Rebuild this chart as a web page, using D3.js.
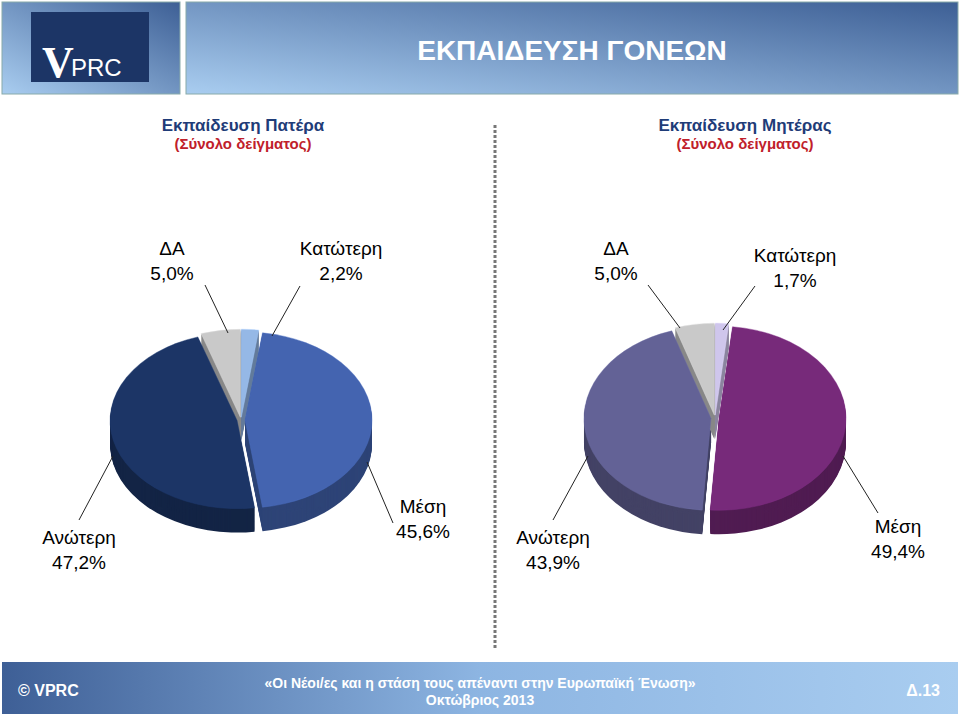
<!DOCTYPE html>
<html><head><meta charset="utf-8">
<script src="https://cdn.jsdelivr.net/npm/d3@7"></script>
<style>body{margin:0;background:#fff}text{font-family:"Liberation Sans Narrow","Arial Narrow","Liberation Sans",sans-serif}</style>
</head><body><svg width="960" height="716"></svg>
<script>
const categories = ["Κατώτερη", "Μέση", "Ανώτερη", "ΔΑ"]
const fatherValues = [2.2, 45.6, 47.2, 5.0]
const motherValues = [1.7, 49.4, 43.9, 5.0]
const fatherColors = ["#95b8e6", "#4464b0", "#1c3566", "#c9c9c9"]
const motherColors = ["#cfc6ec", "#772a7a", "#636296", "#c9c9c9"]

const svg = d3.select('svg')
const defs = svg.append('defs')
const hg = defs.append('linearGradient').attr('id', 'hdr').attr('x1', 0).attr('x2', 1).attr('y1', 1).attr('y2', 0)
hg.append('stop').attr('offset', 0).attr('stop-color', '#a9cdf0')
hg.append('stop').attr('offset', 1).attr('stop-color', '#3d5f95')
const fg = defs.append('linearGradient').attr('id', 'ftr').attr('x1', 0).attr('x2', 1)
fg.append('stop').attr('offset', 0).attr('stop-color', '#3e5f96')
fg.append('stop').attr('offset', 0.5).attr('stop-color', '#8db5e2')
fg.append('stop').attr('offset', 1).attr('stop-color', '#a9cdf0')

// header
svg.append('rect').attr('x', 2).attr('y', 2).attr('width', 178).attr('height', 92).attr('fill', 'url(#hdr)').attr('stroke', '#8aa')
svg.append('rect').attr('x', 31).attr('y', 12).attr('width', 118).attr('height', 70).attr('fill', '#1c3566')
svg.append('text').attr('x', 42).attr('y', 77).attr('fill', '#fff').style('font-size', '44px').style('font-family', 'Liberation Serif').style('font-weight', 'bold').text('V')
svg.append('text').attr('x', 71).attr('y', 76).attr('fill', '#fff').style('font-size', '24px').text('PRC')
svg.append('rect').attr('x', 186).attr('y', 2).attr('width', 772).attr('height', 92).attr('fill', 'url(#hdr)').attr('stroke', '#8aa')
svg.append('text').attr('x', 572).attr('y', 60).attr('text-anchor', 'middle').attr('fill', '#fff').style('font-size', '28px').style('font-weight', 'bold').text('ΕΚΠΑΙΔΕΥΣΗ ΓΟΝΕΩΝ')

// footer
svg.append('rect').attr('x', 2).attr('y', 662).attr('width', 956).attr('height', 52).attr('fill', 'url(#ftr)')
svg.append('text').attr('x', 18).attr('y', 696).attr('fill', '#fff').style('font-size', '16px').style('font-weight', 'bold').text('© VPRC')
svg.append('text').attr('x', 480).attr('y', 688).attr('text-anchor', 'middle').attr('fill', '#fff').style('font-size', '14px').style('font-weight', 'bold').text('«Οι Νέοι/ες και η στάση τους απέναντι στην Ευρωπαϊκή Ένωση»')
svg.append('text').attr('x', 480).attr('y', 705).attr('text-anchor', 'middle').attr('fill', '#fff').style('font-size', '14px').style('font-weight', 'bold').text('Οκτώβριος 2013')
svg.append('text').attr('x', 940).attr('y', 696).attr('text-anchor', 'end').attr('fill', '#fff').style('font-size', '16px').style('font-weight', 'bold').text('Δ.13')

// divider
svg.append('line').attr('x1', 495).attr('x2', 495).attr('y1', 125).attr('y2', 650).attr('stroke', '#777').attr('stroke-width', 3).attr('stroke-dasharray', '3,2')

function titleBlock(x, t1) {
    svg.append('text').attr('x', x).attr('y', 131).attr('text-anchor', 'middle').attr('fill', '#1f3c78').style('font-size', '17px').style('font-weight', 'bold').text(t1)
    svg.append('text').attr('x', x).attr('y', 149).attr('text-anchor', 'middle').attr('fill', '#c0202a').style('font-size', '15px').style('font-weight', 'bold').text('(Σύνολο δείγματος)')
}
titleBlock(243, 'Εκπαίδευση Πατέρα')
titleBlock(745, 'Εκπαίδευση Μητέρας')

const pie = d3.pie().sort(null).value(d => d)
const fmt = v => d3.format('.1f')(v).replace('.', ',') + '%'

function drawPie(values, colors, cx, cy, rx, ry, depth, labels) {
    const arcs = pie(values)
    const k = ry / rx
    const arc = d3.arc().innerRadius(0).outerRadius(rx)
    const g = svg.append('g')
    const explode = 4
    const off = a => {
        const mid = (a.startAngle + a.endAngle) / 2
        return [Math.sin(mid) * explode, -Math.cos(mid) * explode * k]
    }
    arcs.forEach((a, i) => {
        const [dx, dy] = off(a)
        const c = d3.color(colors[i])
        for (let z = depth; z > 0; z--) {
            g.append('path').attr('d', arc(a))
                .attr('transform', `translate(${cx + dx},${cy + dy + z}) scale(1,${k})`)
                .attr('fill', c.darker(1.1))
        }
    })
    arcs.forEach((a, i) => {
        const [dx, dy] = off(a)
        g.append('path').attr('d', arc(a))
            .attr('transform', `translate(${cx + dx},${cy + dy}) scale(1,${k})`)
            .attr('fill', colors[i]).attr('stroke', d3.color(colors[i]).brighter(0.3)).attr('stroke-width', 0.5)
    })
    labels.forEach(l => {
        svg.append('polyline').attr('points', l.line.map(p => p.join(',')).join(' ')).attr('fill', 'none').attr('stroke', '#222').attr('stroke-width', 1)
        svg.append('text').attr('x', l.x).attr('y', l.y).attr('text-anchor', 'middle').style('font-size', '19px').text(categories[l.i])
        svg.append('text').attr('x', l.x).attr('y', l.y + 25).attr('text-anchor', 'middle').style('font-size', '19px').text(fmt(values[l.i]))
    })
}

drawPie(fatherValues, fatherColors, 241, 420, 127, 88, 24, [
    { i: 3, x: 172, y: 255, line: [[205, 285], [228, 333]] },
    { i: 0, x: 341, y: 255, line: [[300, 286], [272, 336]] },
    { i: 2, x: 79, y: 544, line: [[79, 520], [113, 456]] },
    { i: 1, x: 423, y: 513, line: [[393, 523], [367, 462]] }
])
drawPie(motherValues, motherColors, 715, 418, 127, 92, 24, [
    { i: 3, x: 616, y: 255, line: [[648, 285], [680, 328]] },
    { i: 0, x: 795, y: 262, line: [[755, 286], [723, 330]] },
    { i: 2, x: 553, y: 544, line: [[553, 520], [588, 456]] },
    { i: 1, x: 898, y: 533, line: [[878, 513], [843, 456]] }
])
</script></body></html>
